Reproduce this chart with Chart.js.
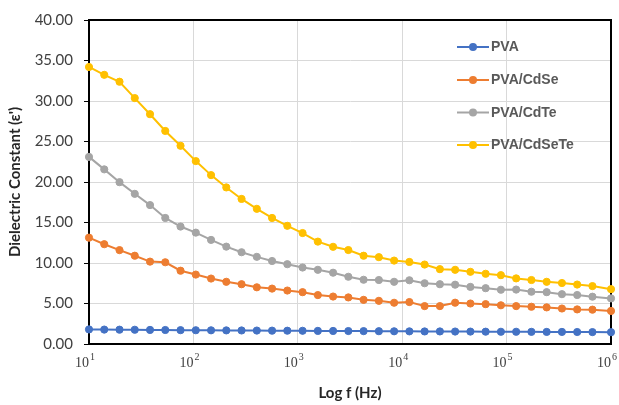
<!DOCTYPE html>
<html>
<head>
<meta charset="utf-8">
<script src="https://cdn.jsdelivr.net/npm/chart.js@4.4.1/dist/chart.umd.min.js"></script>
<style>
  html, body { margin: 0; padding: 0; background: #fff; }
  #wrap { width: 619px; height: 405px; position: relative; }
</style>
</head>
<body>
<div id="wrap"><canvas id="c" width="619" height="405"></canvas></div>
<script>
// Frequencies (Hz)
const freqs = [10, 14, 19.6, 27.44, 38.42, 53.78, 75.3, 105.4, 147.6, 206.6, 289.3, 405, 567, 793.7, 1111, 1556, 2178, 3049, 4269, 5977, 8367, 11714, 16400, 22958, 32142, 44999, 62998, 88198, 123477, 172868, 242015, 338821, 474349, 664089, 1000000];

const seriesNames = ["PVA", "PVA/CdSe", "PVA/CdTe", "PVA/CdSeTe"];

const pva = [1.80, 1.78, 1.77, 1.76, 1.74, 1.73, 1.71, 1.70, 1.69, 1.68, 1.67, 1.66, 1.65, 1.64, 1.63, 1.62, 1.61, 1.60, 1.59, 1.58, 1.57, 1.56, 1.55, 1.55, 1.54, 1.53, 1.52, 1.51, 1.51, 1.50, 1.49, 1.49, 1.48, 1.47, 1.46];

const pvaCdSe = [13.13, 12.32, 11.59, 10.90, 10.17, 10.09, 9.05, 8.57, 8.08, 7.68, 7.38, 7.00, 6.84, 6.60, 6.40, 6.04, 5.86, 5.75, 5.45, 5.33, 5.09, 5.18, 4.68, 4.68, 5.10, 5.00, 4.92, 4.78, 4.68, 4.60, 4.52, 4.38, 4.27, 4.24, 4.08];

const pvaCdTe = [23.10, 21.56, 19.98, 18.54, 17.15, 15.56, 14.50, 13.75, 12.85, 12.02, 11.33, 10.76, 10.25, 9.85, 9.44, 9.16, 8.80, 8.30, 7.93, 7.90, 7.68, 7.87, 7.50, 7.38, 7.32, 7.05, 6.89, 6.70, 6.72, 6.45, 6.40, 6.15, 6.05, 5.84, 5.63];

const pvaCdSeTe = [34.20, 33.23, 32.38, 30.36, 28.37, 26.30, 24.47, 22.58, 20.85, 19.33, 17.91, 16.69, 15.56, 14.59, 13.70, 12.64, 12.00, 11.60, 10.90, 10.72, 10.30, 10.13, 9.81, 9.24, 9.16, 8.91, 8.67, 8.50, 8.10, 7.90, 7.68, 7.53, 7.34, 7.15, 6.77];

const xTickValues = [10, 100, 1000, 10000, 100000, 1000000];
const xTickExponents = ["1", "2", "3", "4", "5", "6"];
const yTickValues = [0, 5, 10, 15, 20, 25, 30, 35, 40];

const colors = ["#4472C4", "#ED7D31", "#A5A5A5", "#FFC000"];
const allSeries = [pva, pvaCdSe, pvaCdTe, pvaCdSeTe];

const datasets = allSeries.map((arr, i) => ({
  label: seriesNames[i],
  data: freqs.map((f, j) => ({ x: f, y: arr[j] })),
  borderColor: colors[i],
  backgroundColor: colors[i],
  pointBackgroundColor: colors[i],
  pointBorderColor: colors[i],
  pointRadius: 3.6,
  pointBorderWidth: 1,
  borderWidth: 2,
  tension: 0,
  clip: false
}));

const frameAndLabels = {
  id: 'frameAndLabels',
  beforeDatasetsDraw(chart) {
    const { ctx, chartArea: a } = chart;
    ctx.save();
    ctx.strokeStyle = '#000';
    ctx.lineWidth = 2;
    ctx.beginPath();
    ctx.moveTo(a.left, a.top);
    ctx.lineTo(a.right, a.top);
    ctx.lineTo(a.right, a.bottom);
    ctx.stroke();
    ctx.restore();
  },
  afterDraw(chart) {
    const { ctx } = chart;
    const xs = chart.scales.x;
    const a = chart.chartArea;
    ctx.save();
    // x tick labels: 10^n
    xTickValues.forEach((v, i) => {
      const px = xs.getPixelForValue(v);
      ctx.fillStyle = '#404040';
      ctx.textBaseline = 'alphabetic';
      ctx.textAlign = 'left';
      ctx.font = '14px "Liberation Serif"';
      const baseW = ctx.measureText('10').width;
      const start = px - 14;
      ctx.fillText('10', start, a.bottom + 23);
      ctx.font = '10px "Liberation Serif"';
      ctx.fillText(xTickExponents[i], start + baseW + 1, a.bottom + 16);
    });
    // legend
    const ly = [47, 80, 112.5, 145];
    chart.data.datasets.forEach((ds, i) => {
      const y = ly[i];
      ctx.strokeStyle = ds.borderColor;
      ctx.lineWidth = 2;
      ctx.beginPath();
      ctx.moveTo(457, y);
      ctx.lineTo(489, y);
      ctx.stroke();
      ctx.fillStyle = ds.borderColor;
      ctx.beginPath();
      ctx.arc(473, y, 4, 0, Math.PI * 2);
      ctx.fill();
      ctx.fillStyle = '#595959';
      ctx.font = 'bold 14px "Liberation Sans"';
      ctx.textAlign = 'left';
      ctx.textBaseline = 'middle';
      ctx.fillText(ds.label, 491, y + 0.5);
    });
    ctx.restore();
  }
};

new Chart(document.getElementById('c'), {
  type: 'line',
  data: { datasets },
  options: {
    responsive: false,
    animation: false,
    events: [],
    layout: { padding: { top: 15, right: 8, bottom: 0, left: 0 } },
    plugins: { legend: { display: false }, tooltip: { enabled: false } },
    scales: {
      x: {
        type: 'logarithmic',
        min: 10,
        max: 1000000,
        afterBuildTicks(scale) {
          scale.ticks = xTickValues.map(v => ({ value: v }));
        },
        afterFit(scale) { scale.height = 61; },
        ticks: { display: false },
        grid: { color: '#D9D9D9', lineWidth: 1, drawTicks: false },
        border: { color: '#000', width: 2 },
        title: {
          display: true,
          text: 'Log f (Hz)',
          color: '#262626',
          font: { family: 'Lato', size: 15, weight: 'bold' },
          padding: { top: 0, bottom: 3 }
        }
      },
      y: {
        type: 'linear',
        min: 0,
        max: 40,
        afterBuildTicks(scale) {
          scale.ticks = yTickValues.map(v => ({ value: v }));
        },
        afterFit(scale) { scale.width = 89; },
        ticks: {
          callback: v => Number(v).toFixed(2),
          color: '#404040',
          font: { family: 'Lato', size: 15 },
          padding: 11
        },
        grid: { color: '#D9D9D9', lineWidth: 1, tickLength: 5, tickColor: '#000' },
        border: { color: '#000', width: 2 },
        title: {
          display: true,
          text: "Dielectric Constant (ε')",
          color: '#262626',
          font: { family: 'Lato', size: 15, weight: 'bold' },
          padding: { top: 6, bottom: 0 }
        }
      }
    }
  },
  plugins: [frameAndLabels]
});
</script>
</body>
</html>
